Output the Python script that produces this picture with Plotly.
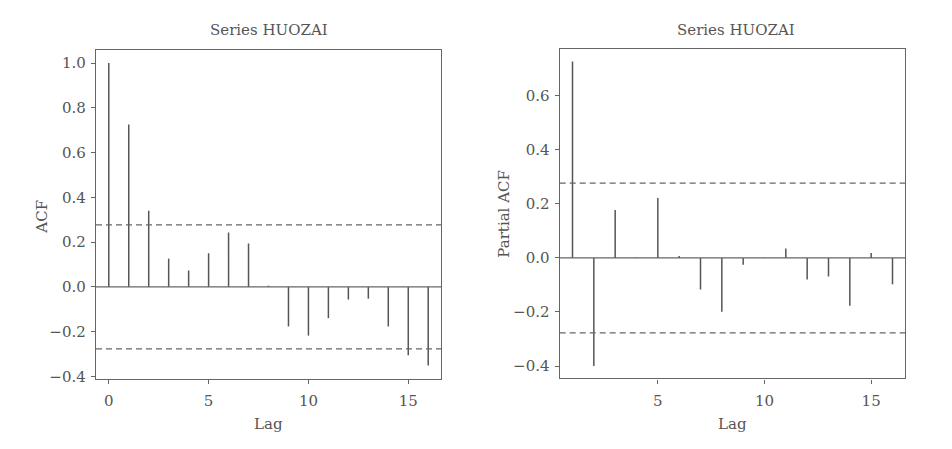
import plotly.graph_objects as go

# ---- data ----
acf_lags = list(range(0, 17))
acf_vals = [1.0, 0.725, 0.34, 0.126, 0.073, 0.15, 0.243, 0.194, 0.005,
            -0.177, -0.218, -0.14, -0.057, -0.053, -0.177, -0.306, -0.352]
pacf_lags = list(range(1, 17))
pacf_vals = [0.727, -0.40, 0.177, 0.003, 0.222, 0.007, -0.117, -0.199,
             -0.025, 0.002, 0.035, -0.08, -0.069, -0.177, 0.018, -0.097]
ci_bound = 0.277
title_text = "Series HUOZAI"
acf_ytick_vals = [-0.4, -0.2, 0.0, 0.2, 0.4, 0.6, 0.8, 1.0]
acf_ytick_text = ["\u22120.4", "\u22120.2", "0.0", "0.2", "0.4", "0.6", "0.8", "1.0"]
pacf_ytick_vals = [-0.4, -0.2, 0.0, 0.2, 0.4, 0.6]
pacf_ytick_text = ["\u22120.4", "\u22120.2", "0.0", "0.2", "0.4", "0.6"]
acf_xticks = [0, 5, 10, 15]
pacf_xticks = [5, 10, 15]

FONT = "DejaVu Serif"
TXT = "#555555"
LINE = "#666666"

# the page body has an 8px margin, so the figure is laid out in (page - 8) coords
W, H = 944, 441


def fx(px):
    return (px - 8) / W


def fy(py):
    return 1 - (py - 8) / H


def stems(lags, vals):
    xs, ys = [], []
    for l, v in zip(lags, vals):
        xs += [l, l, None]
        ys += [0, v, None]
    return xs, ys


fig = go.Figure()
ax, ay = stems(acf_lags, acf_vals)
fig.add_trace(go.Scatter(x=ax, y=ay, mode="lines", xaxis="x", yaxis="y",
                         line=dict(color="#555555", width=1.5), showlegend=False,
                         hoverinfo="skip"))
px_, py_ = stems(pacf_lags, pacf_vals)
fig.add_trace(go.Scatter(x=px_, y=py_, mode="lines", xaxis="x2", yaxis="y2",
                         line=dict(color="#555555", width=1.5), showlegend=False,
                         hoverinfo="skip"))

# zero lines and confidence bounds
for xr, yr in (("x", "y"), ("x2", "y2")):
    fig.add_shape(type="line", xref=f"{xr} domain", yref=yr, x0=0, x1=1, y0=0, y1=0,
                  line=dict(color=LINE, width=1.3))
    for b in (ci_bound, -ci_bound):
        fig.add_shape(type="line", xref=f"{xr} domain", yref=yr, x0=0, x1=1, y0=b, y1=b,
                      line=dict(color=LINE, width=1.2, dash="6px,4px"))

axis_common = dict(showline=True, mirror=True, linecolor=LINE, linewidth=1.4,
                   showgrid=False, zeroline=False, ticks="outside", ticklen=4,
                   tickcolor=LINE, tickwidth=1.2,
                   tickfont=dict(family=FONT, size=15, color=TXT))

fig.update_layout(
    width=W, height=H,
    margin=dict(l=0, r=0, t=0, b=0),
    paper_bgcolor="white", plot_bgcolor="white",
    xaxis=dict(domain=[fx(96), fx(441)], range=[-0.64, 16.64], tickvals=acf_xticks,
               ticklabelstandoff=4, anchor="y", **axis_common),
    yaxis=dict(domain=[fy(385), fy(51)], range=[-0.412, 1.057], tickvals=acf_ytick_vals,
               ticktext=acf_ytick_text, ticklabelstandoff=2, anchor="x", **axis_common),
    xaxis2=dict(domain=[fx(559.7), fx(905.3)], range=[0.4, 16.6], tickvals=pacf_xticks,
                ticklabelstandoff=4, anchor="y2", **axis_common),
    yaxis2=dict(domain=[fy(384.3), fy(49.7)], range=[-0.4455, 0.773], tickvals=pacf_ytick_vals,
                ticktext=pacf_ytick_text, ticklabelstandoff=2, anchor="x2", **axis_common),
)

ann_font = dict(family=FONT, size=15, color=TXT)
annotations = [
    dict(text=title_text, x=fx(268.5), y=fy(30)),
    dict(text=title_text, x=fx(736), y=fy(30)),
    dict(text="Lag", x=fx(268.5), y=fy(431)),
    dict(text="Lag", x=fx(732.5), y=fy(431)),
    dict(text="ACF", x=fx(42), y=fy(220), textangle=-90),
    dict(text="Partial ACF", x=fx(504), y=fy(217), textangle=-90),
]
for a in annotations:
    fig.add_annotation(xref="paper", yref="paper", showarrow=False,
                       xanchor="center", yanchor="middle", font=ann_font, **a)

fig.write_html("out.html")
